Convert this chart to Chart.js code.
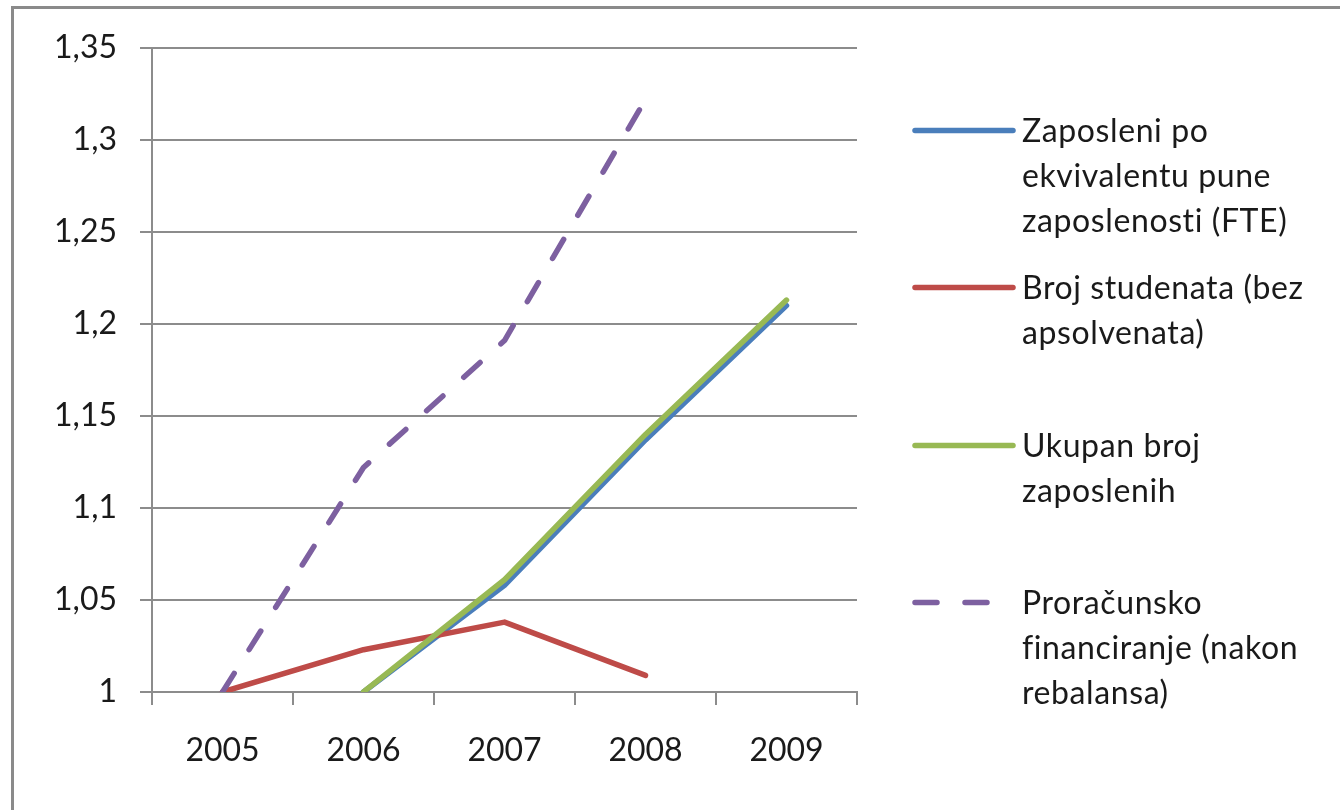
<!DOCTYPE html>
<html>
<head>
<meta charset="utf-8">
<script src="https://cdn.jsdelivr.net/npm/chart.js@4"></script>
<style>
  html, body { margin:0; padding:0; background:#fff; }
  #wrap { position:relative; width:1340px; height:810px; overflow:hidden; font-family: Lato, "Open Sans", sans-serif; }
  #frame { position:absolute; left:11px; top:6px; width:1400px; height:900px; border-left:3px solid #8a8a8a; border-top:3px solid #8a8a8a; }
  #c { position:absolute; left:0; top:0; }
  .leg { position:absolute; left:912px; font-size:32px; letter-spacing:0.6px; color:#1a1a1a; line-height:45px; }
  .leg .txt { position:absolute; left:110px; top:0; white-space:nowrap; }
  .leg svg { position:absolute; left:0; top:19px; }
</style>
</head>
<body>
<div id="wrap">
  <div id="frame"></div>
  <canvas id="c" width="1340" height="810"></canvas>
  <div id="legend"></div>
</div>
<script>
const categories = ['2005', '2006', '2007', '2008', '2009'];
const fteValues      = [null, 1.000, 1.058, 1.137, 1.210];
const studentValues  = [1.000, 1.023, 1.038, 1.009, null];
const totalValues    = [null, 1.000, 1.061, 1.140, 1.213];
const budgetValues   = [1.000, 1.122, 1.191, 1.322, null];
const yTickLabels = ['1', '1,05', '1,1', '1,15', '1,2', '1,25', '1,3', '1,35'];

const seriesNames = [
  ['Zaposleni po', 'ekvivalentu pune', 'zaposlenosti (FTE)'],
  ['Broj studenata (bez', 'apsolvenata)'],
  ['Ukupan broj', 'zaposlenih'],
  ['Proračunsko', 'financiranje (nakon', 'rebalansa)']
];
const colors = ['#4A7EBB', '#BE4B48', '#98B954', '#7D60A0'];
const dashes = [[], [], [], [22, 28]];
const legendTops = [107, 264, 422, 579];

const gridColor = '#8c8c8c';
const font = { family: 'Lato, "Open Sans", sans-serif', size: 32 };

function ds(i, data, order) {
  return {
    label: seriesNames[i].join(' '),
    data: data,
    borderColor: colors[i],
    backgroundColor: colors[i],
    borderWidth: 5.5,
    borderDash: dashes[i],
    borderCapStyle: 'round',
    borderJoinStyle: 'round',
    pointRadius: 0,
    tension: 0,
    spanGaps: false,
    order: order
  };
}

new Chart(document.getElementById('c'), {
  type: 'line',
  data: {
    labels: categories,
    datasets: [
      ds(0, fteValues, 4),
      ds(1, studentValues, 3),
      ds(2, totalValues, 2),
      ds(3, budgetValues, 1)
    ]
  },
  options: {
    responsive: false,
    animation: false,
    devicePixelRatio: 1,
    layout: { padding: { top: 48, right: 483, left: 0, bottom: 0 } },
    plugins: { legend: { display: false }, tooltip: { enabled: false } },
    scales: {
      x: {
        offset: true,
        grid: { offset: true, drawOnChartArea: false, drawTicks: true, tickLength: 13, color: gridColor, lineWidth: 2 },
        border: { display: true, color: gridColor, width: 2 },
        ticks: { color: '#1a1a1a', font: font, padding: 26, maxRotation: 0 },
        afterFit: s => { s.height = 118; }
      },
      y: {
        min: 1, max: 1.35,
        grid: { color: gridColor, lineWidth: 2, tickLength: 12, drawTicks: true },
        border: { display: true, color: gridColor, width: 2 },
        ticks: { stepSize: 0.05, color: '#1a1a1a', font: font, padding: 23,
                 callback: (v, i) => yTickLabels[i] },
        afterFit: s => { s.width = 152; }
      }
    }
  }
});

const legend = document.getElementById('legend');
seriesNames.forEach((lines, i) => {
  const d = document.createElement('div');
  d.className = 'leg';
  d.style.top = legendTops[i] + 'px';
  const dash = dashes[i].length ? 'stroke-dasharray="22 28"' : '';
  d.innerHTML = `<svg width="104" height="9"><line x1="3" y1="4.5" x2="101" y2="4.5" stroke="${colors[i]}" stroke-width="5.5" stroke-linecap="round" ${dash}/></svg>` +
    `<div class="txt">${lines.join('<br>')}</div>`;
  legend.appendChild(d);
});
</script>
</body>
</html>
